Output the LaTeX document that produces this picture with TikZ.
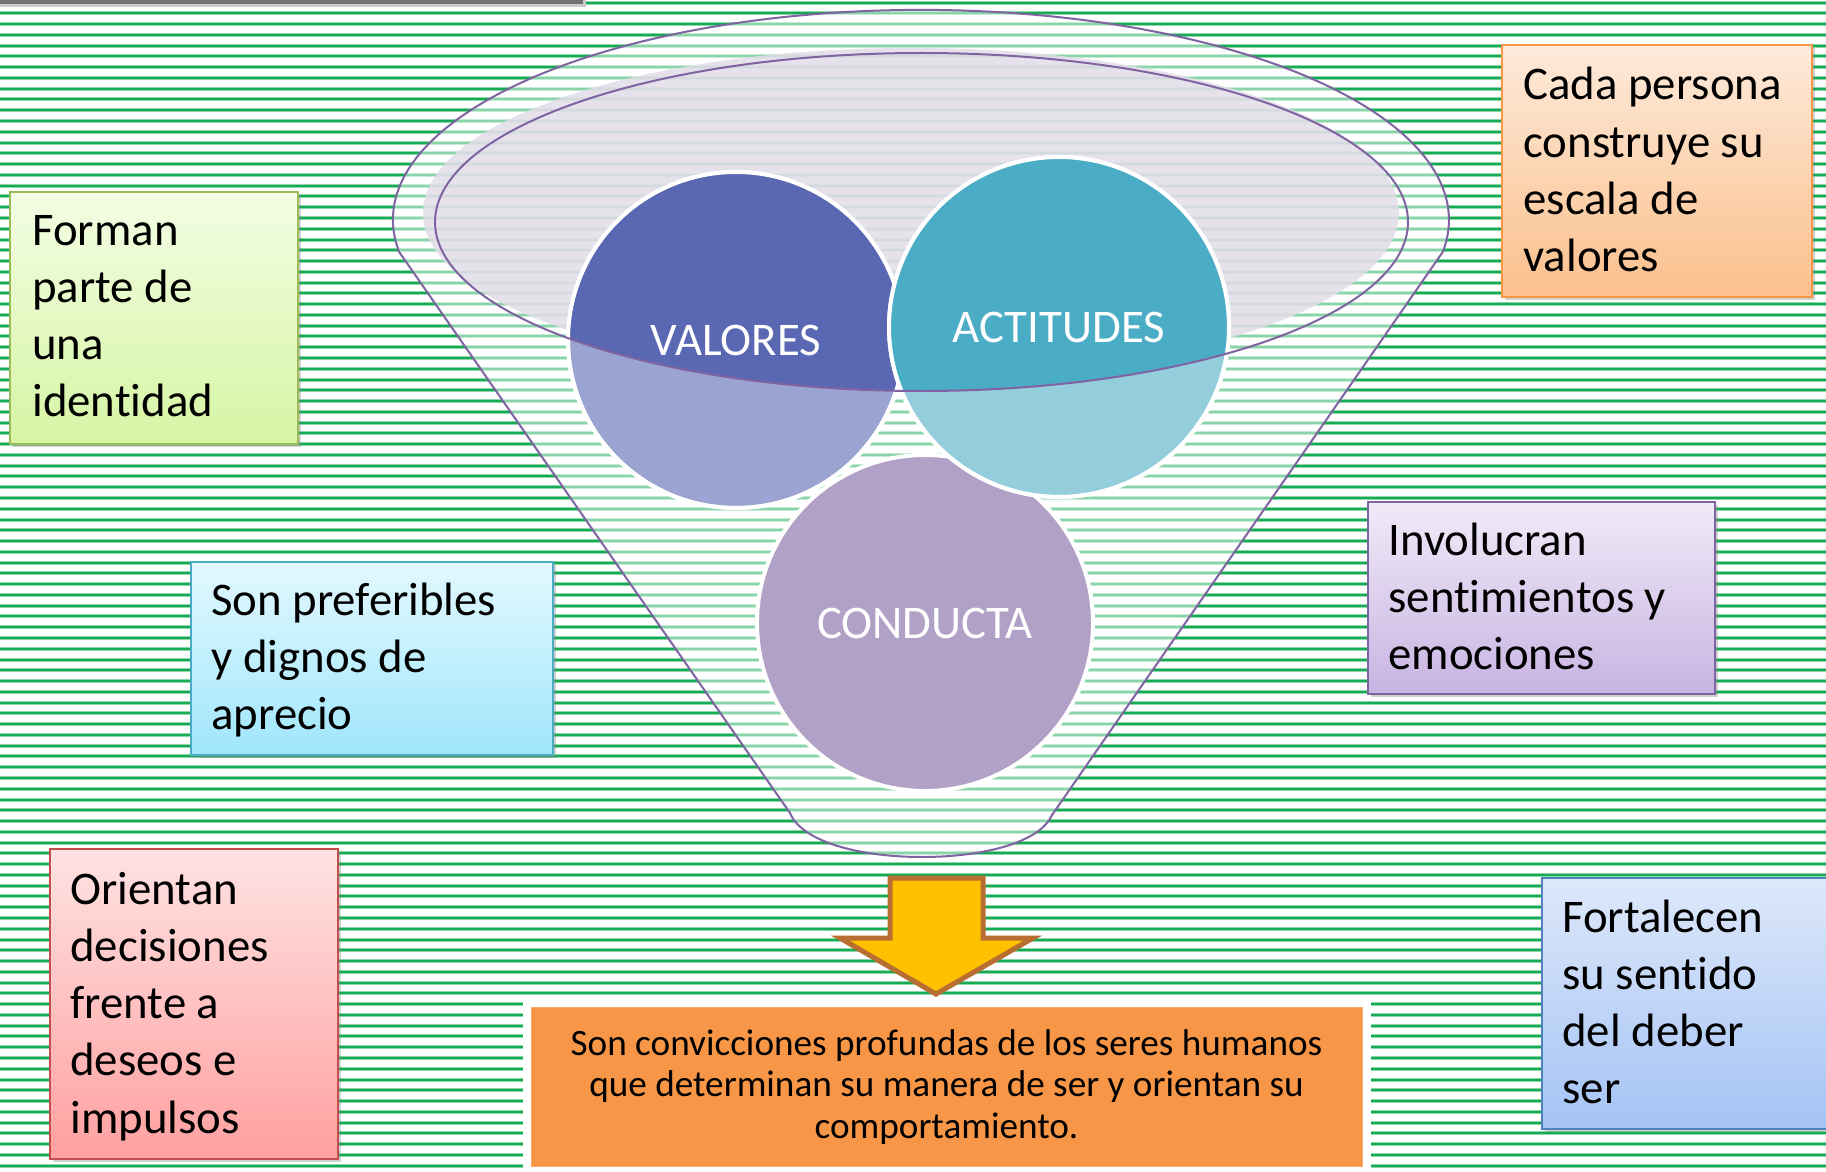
\documentclass[tikz,border=0pt]{standalone}
\usepackage{fontspec}
\setmainfont{Carlito}[Ligatures=NoCommon]
\usetikzlibrary{shadows}
\definecolor{stripeHalo}{RGB}{140,216,170}
\definecolor{stripeCore}{RGB}{22,170,84}
\definecolor{funnelLine}{HTML}{8064A2}
\definecolor{shineCol}{RGB}{226,221,233}
\definecolor{valDark}{HTML}{5A67B2}
\definecolor{valLight}{HTML}{9BA3D0}
\definecolor{actDark}{HTML}{4BACC6}
\definecolor{actLight}{HTML}{94CDDC}
\definecolor{condCol}{HTML}{B2A1C7}
\definecolor{arrowFill}{HTML}{FFC000}
\definecolor{arrowLine}{RGB}{184,110,48}
\definecolor{orangeBox}{HTML}{F79646}
\begin{document}
\begin{tikzpicture}[x=0.5pt,y=-0.5pt,
  stripehalo/.style={stripeHalo,line width=2pt},
  stripecore/.style={stripeCore,line width=1pt},
  funnelline/.style={draw=funnelLine,line width=1pt},
  circ/.style={circle,draw=white,line width=2pt,inner sep=0pt},
  circlabel/.style={text=white,inner sep=0pt,font=\fontsize{23.4pt}{28pt}\selectfont},
  box/.style={rectangle,anchor=north west,inner sep=0pt,line width=1pt,
    drop shadow={opacity=0.35,shadow xshift=1.5pt,shadow yshift=-1.5pt}},
  boxtext/.style={anchor=base west,inner sep=0pt,font=\fontsize{23.4pt}{28.65pt}\selectfont},
]
\useasboundingbox (0,0) rectangle (1826,1172);
\fill[white] (0,0) rectangle (1826,1172);
% background stripes
\foreach \i in {0,...,109}{
  \pgfmathsetmacro{\yy}{2.56+10.77*\i}
  \draw[stripehalo] (0,\yy) -- (1826,\yy);
  \draw[stripecore] (0,\yy) -- (1826,\yy);
}
% top-left shadow bar
\fill[black!20] (0,0) rectangle (586,7);
\fill[black!55] (0,0) rectangle (583,4);
% funnel body
\path[fill=white,fill opacity=0.5]
  (399.2,252) arc[start angle=171.2,end angle=368.8,x radius=528,y radius=210]
  -- (1052,815) .. controls (1040,842) and (985,857) .. (922,857)
  .. controls (860,857) and (802,842) .. (790,813) -- cycle;
% shine
\fill[shineCol,opacity=0.85] (911,213) ellipse[x radius=488,y radius=165];
% circles
\node[circ,fill=valLight,minimum size=168pt] (valores) at (736,340) {};
\begin{scope}
  \clip (921.5,222) ellipse[x radius=486.5,y radius=169];
  \fill[valDark] (valores.center) circle[radius=168];
\end{scope}
\draw[white,line width=2pt] (valores.center) circle[radius=168];
\node[circ,fill=condCol,minimum size=168pt] (conducta) at (925,623) {};
\node[circ,fill=actLight,minimum size=170pt] (actitudes) at (1059,327) {};
\begin{scope}
  \clip (921.5,222) ellipse[x radius=486.5,y radius=169];
  \fill[actDark] (actitudes.center) circle[radius=170];
\end{scope}
\draw[white,line width=2pt] (actitudes.center) circle[radius=170];
% funnel outlines
\draw[funnelline] (921.5,222) ellipse[x radius=486.5,y radius=169];
\draw[funnelline,line join=round]
  (399.2,252) arc[start angle=171.2,end angle=368.8,x radius=528,y radius=210]
  -- (1052,815) .. controls (1040,842) and (985,857) .. (922,857)
  .. controls (860,857) and (802,842) .. (790,813) -- cycle;
% circle labels
\node[circlabel] (valores-t) at (valores.center) {VALORES};
\node[circlabel] (actitudes-t) at (actitudes.center) {ACTITUDES};
\node[circlabel] (conducta-t) at (conducta.center) {CONDUCTA};
% side boxes
\node[box,draw={rgb,255:red,155;green,187;blue,89},top color={rgb,255:red,243;green,253;blue,228},bottom color={rgb,255:red,214;green,245;blue,164},minimum width=144pt,minimum height=126pt] (forman) at (9,191) {};
\node[boxtext] (forman-t) at (32,245) {\parbox[t]{140pt}{\raggedright Forman\\parte de\\una\\identidad}};

\node[box,draw=orangeBox,top color={rgb,255:red,253;green,234;blue,218},bottom color={rgb,255:red,251;green,192;blue,140},minimum width=155pt,minimum height=126pt] (cada) at (1501,44) {};
\node[boxtext] (cada-t) at (1523,100) {\parbox[t]{150pt}{\raggedright Cada persona\\construye su\\escala de\\valores}};

\node[box,draw=funnelLine,top color={rgb,255:red,240;green,234;blue,248},bottom color={rgb,255:red,200;green,180;blue,226},minimum width=173.5pt,minimum height=96pt] (involucran) at (1367,501) {};
\node[boxtext] (involucran-t) at (1388,555) {\parbox[t]{170pt}{\raggedright Involucran\\sentimientos y\\emociones}};

\node[box,draw={rgb,255:red,79;green,129;blue,189},top color={rgb,255:red,221;green,232;blue,250},bottom color={rgb,255:red,164;green,195;blue,245},minimum width=170pt,minimum height=125.5pt] (fortalecen) at (1541,877) {};
\node[boxtext] (fortalecen-t) at (1562,932) {\parbox[t]{140pt}{\raggedright Fortalecen\\su sentido\\del deber\\ser}};

\node[box,draw=actDark,top color={rgb,255:red,226;green,248;blue,254},bottom color={rgb,255:red,160;green,230;blue,252},minimum width=181pt,minimum height=96.5pt] (preferibles) at (190,561) {};
\node[boxtext] (preferibles-t) at (211,615) {\parbox[t]{175pt}{\raggedright Son preferibles\\y dignos de\\aprecio}};

\node[box,draw={rgb,255:red,192;green,80;blue,77},top color={rgb,255:red,255;green,226;blue,226},bottom color={rgb,255:red,255;green,160;blue,160},minimum width=144pt,minimum height=155pt] (orientan) at (49,848) {};
\node[boxtext] (orientan-t) at (70,904) {\parbox[t]{140pt}{\raggedright Orientan\\decisiones\\frente a\\deseos e\\impulsos}};

% arrow
\draw[fill=arrowFill,draw=arrowLine,line width=2.5pt,line join=miter]
  (890,878) -- (983,878) -- (983,938) -- (1033,938) -- (936,994) -- (840,938) -- (890,938) -- cycle;

% bottom box
\node[rectangle,anchor=north west,fill=white,inner sep=0pt,minimum width=424pt,minimum height=92pt] (frame) at (523,1000) {};
\node[rectangle,anchor=north west,fill=orangeBox,draw={rgb,255:red,250;green,170;blue,110},line width=0.5pt,inner sep=0pt,minimum width=415.5pt,minimum height=79.5pt] (summary) at (531,1007) {};
\node[anchor=base,inner sep=0pt,font=\fontsize{18.6pt}{20.85pt}\selectfont] (summary-t) at (946.5,1055) {\parbox[t]{420pt}{\centering Son convicciones profundas de los seres humanos\\que determinan su manera de ser y orientan su\\comportamiento.}};
\end{tikzpicture}
\end{document}
